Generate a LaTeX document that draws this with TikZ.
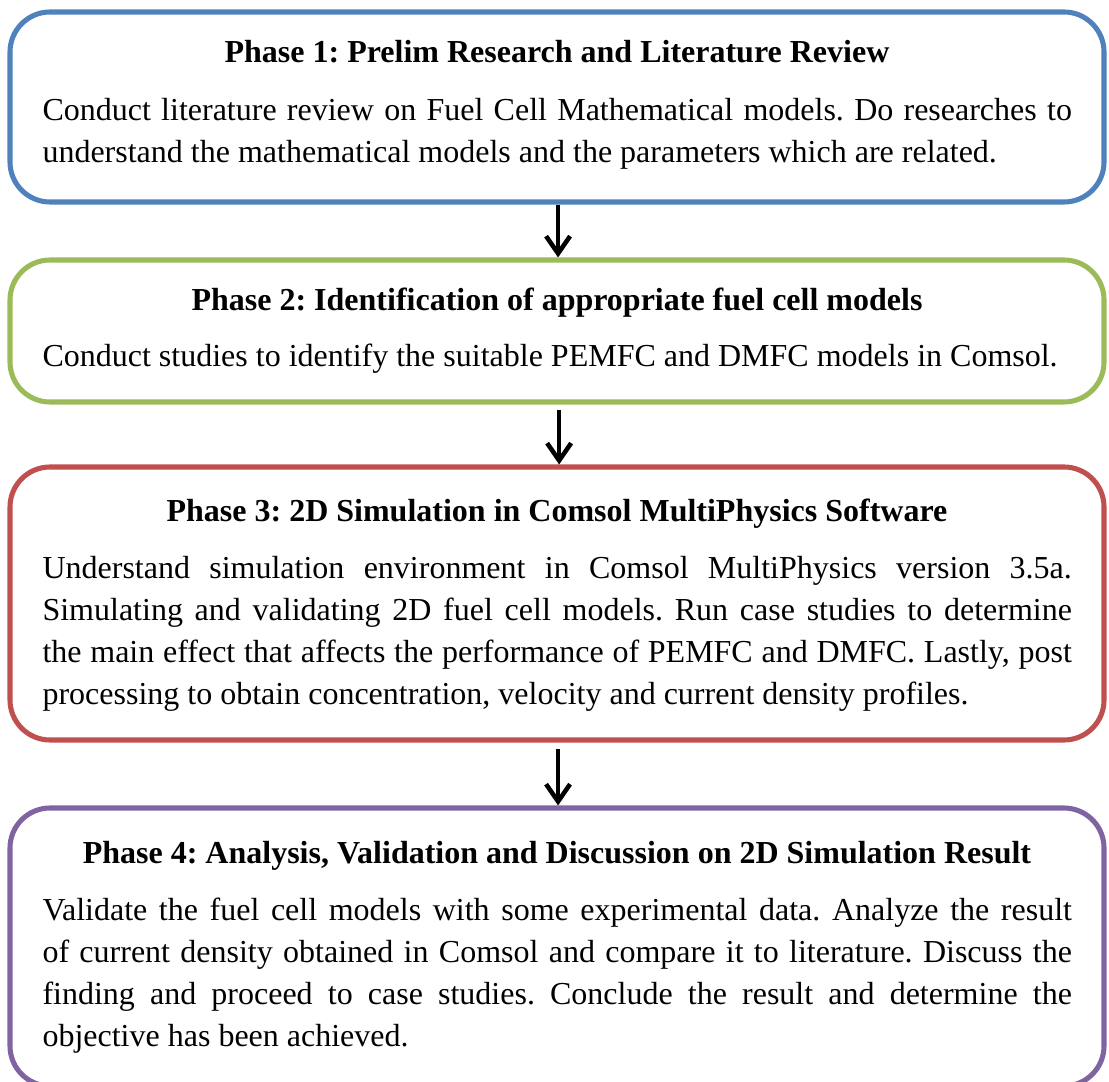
\documentclass[tikz,border=0pt]{standalone}
\usepackage{fontspec}
\setmainfont{Liberation Serif}
\frenchspacing
\usetikzlibrary{arrows.meta,fit}
\definecolor{phaseblue}{HTML}{4F81BD}
\definecolor{phasegreen}{HTML}{9BBB59}
\definecolor{phasered}{HTML}{C0504D}
\definecolor{phasepurple}{HTML}{8064A2}
\begin{document}
\begin{tikzpicture}[x=0.375pt,y=-0.375pt,
  phase/.style={draw=#1, line width=1.9pt, rounded corners=15pt, inner sep=0pt},
  phasetitle/.style={anchor=base, inner sep=0pt,
    font={\fontsize{12pt}{14pt}\bfseries\selectfont}},
  phasebody/.style={anchor=base west, inner sep=0pt, text width=386pt, align=justify,
    font={\fontsize{12pt}{15.75pt}\selectfont\hyphenpenalty=10000\exhyphenpenalty=10000}},
  flow/.style={line width=1.7pt, -{Straight Barb[length=6.5pt,width=9pt]}}]
\useasboundingbox (0,0) rectangle (1109,1082);

% phase boxes
\node (b1) [phase=phaseblue,   fit={(10,12) (1104,202)}] {};
\node (b2) [phase=phasegreen,  fit={(10,260) (1104,402)}] {};
\node (b3) [phase=phasered,    fit={(10,467) (1104,740)}] {};
\node (b4) [phase=phasepurple, fit={(10,808) (1104,1086)}] {};

% titles
\node (t1) [phasetitle] at (557,63)  {Phase 1: Prelim Research and Literature Review};
\node (t2) [phasetitle] at (557,311) {Phase 2: Identification of appropriate fuel cell models};
\node (t3) [phasetitle] at (557,522) {Phase 3: 2D Simulation in Comsol MultiPhysics Software};
\node (t4) [phasetitle] at (557,863) {Phase 4: Analysis, Validation and Discussion on 2D Simulation Result};

% descriptions
\node (d1) [phasebody] at (42,121) {Conduct literature review on Fuel Cell Mathematical models. Do researches to\linebreak
understand the mathematical models and the parameters which are related.};
\node (d2) [phasebody] at (42,367) {Conduct studies to identify the suitable PEMFC and DMFC models in Comsol.};
\node (d3) [phasebody] at (42,579) {Understand simulation environment in Comsol MultiPhysics version 3.5a.\linebreak
Simulating and validating 2D fuel cell models. Run case studies to determine\linebreak
the main effect that affects the performance of PEMFC and DMFC. Lastly, post\linebreak
processing to obtain concentration, velocity and current density profiles.};
\node (d4) [phasebody] at (42,920) {Validate the fuel cell models with some experimental data. Analyze the result\linebreak
of current density obtained in Comsol and compare it to literature. Discuss the\linebreak
finding and proceed to case studies. Conclude the result and determine the\linebreak
objective has been achieved.};

% flow between phases
\draw[flow] ([xshift=0.4pt]b1.south) -- ([xshift=0.4pt]b2.north);
\draw[flow, shorten <=2pt] ([xshift=0.8pt]b2.south) -- ([xshift=0.8pt]b3.north);
\draw[flow, shorten <=2.6pt] ([xshift=0.4pt]b3.south) -- ([xshift=0.4pt]b4.north);
\end{tikzpicture}
\end{document}
